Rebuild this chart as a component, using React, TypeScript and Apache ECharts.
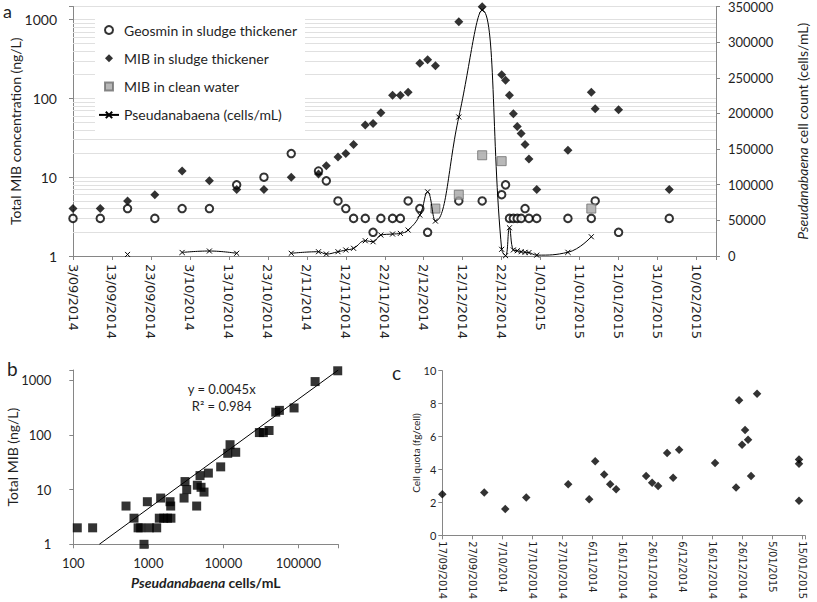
import React, { useEffect, useRef } from 'react';
import * as echarts from 'echarts';

// ---------- Panel a data ----------
const startA = '2014-09-03';
const sampleDates = [
  '2014-09-03', '2014-09-10', '2014-09-17', '2014-09-24', '2014-10-01', '2014-10-08', '2014-10-15', '2014-10-22',
  '2014-10-29', '2014-11-05', '2014-11-07', '2014-11-10', '2014-11-12', '2014-11-14', '2014-11-17', '2014-11-19',
  '2014-11-21', '2014-11-24', '2014-11-26', '2014-11-28', '2014-12-01', '2014-12-03', '2014-12-05', '2014-12-11',
  '2014-12-17', '2014-12-22', '2014-12-23', '2014-12-24', '2014-12-25', '2014-12-26', '2014-12-27', '2014-12-28',
  '2014-12-29', '2014-12-31', '2015-01-08', '2015-01-14', '2015-01-15', '2015-01-21', '2015-02-03',
];
const geosmin = [
  3, 3, 4, 3, 4, 4, 8, 10, 20, 12, 9, 5, 4, 3, 3, 2, 3, 3, 3, 5, 4, 2, null, 5, 5, 6, 8, 3, 3, 3, 3, 4, 3, 3, 3, 3, 5, 2, 3,
];
const mibSludge = [
  4, 4, 5, 6, 12, 9, 7, 7, 10, 11, 14, 18, 20, 26, 46, 48, 66, 110, 110, 120, 280, 310, 260, 940, 1460, 200, 170, 110,
  64, 44, 36, 26, 17, 7, 22, 120, 74, 72, 7,
];
const cleanDates = ['2014-12-05', '2014-12-11', '2014-12-17', '2014-12-22', '2015-01-14'];
const mibClean = [4, 6, 19, 16, 4];
const cellDates = [
  '2014-09-17', '2014-09-24', '2014-10-01', '2014-10-08', '2014-10-15', '2014-10-22', '2014-10-29', '2014-11-05',
  '2014-11-07', '2014-11-10', '2014-11-12', '2014-11-14', '2014-11-17', '2014-11-19', '2014-11-21', '2014-11-24',
  '2014-11-26', '2014-11-28', '2014-12-01', '2014-12-03', '2014-12-05', '2014-12-11', '2014-12-17', '2014-12-22',
  '2014-12-23', '2014-12-24', '2014-12-25', '2014-12-26', '2014-12-27', '2014-12-28', '2014-12-29', '2014-12-31',
  '2015-01-08', '2015-01-14',
];
const cellCounts = [
  2200, null, 5000, 7000, 3800, null, 3800, 6000, 2800, 6000, 8400, 10800, 21400, 20000, 29400, 30800, 31700, 36400,
  57400, 90000, 49000, 195000, 345000, 9400, 500, 39600, 8500, 7400, 6000, 5200, 4800, 1200, 5200, 27000,
];

// ---------- Panel b data ----------
const bCells = [
  113, 181, 504, 644, 730, 790, 875, 970, 1031, 1292, 1460, 1400, 1600, 1800, 2000, 1945, 1986, 2992, 3084, 3247, 4406,
  4498, 4885, 5039, 5521, 6310, 9210, 11420, 12270, 14600, 30200, 34100, 40600, 49900, 55800, 87500, 166900, 334000,
];
const bMib = [
  2, 2, 5, 3, 2, 2, 1, 6, 2, 2, 7, 3, 3, 3, 3, 6, 5, 7, 14, 10, 5, 12, 18, 11, 9, 20, 26, 46, 66, 48, 110, 110, 120, 260,
  280, 310, 940, 1480,
];
const trendCells = [222, 340000];
const trendMib = [1, 1530];

// ---------- Panel c data ----------
const startC = '2014-09-17';
const quotaDates = [
  '2014-09-17', '2014-10-01', '2014-10-08', '2014-10-15', '2014-10-29', '2014-11-05', '2014-11-07', '2014-11-10',
  '2014-11-12', '2014-11-14', '2014-11-24', '2014-11-26', '2014-11-28', '2014-12-01', '2014-12-03', '2014-12-05',
  '2014-12-17', '2014-12-24', '2014-12-25', '2014-12-26', '2014-12-27', '2014-12-28', '2014-12-29', '2014-12-31',
  '2015-01-14', '2015-01-14', '2015-01-14',
];
const cellQuota = [
  2.5, 2.6, 1.6, 2.3, 3.1, 2.2, 4.5, 3.7, 3.1, 2.8, 3.6, 3.2, 3.0, 5.0, 3.5, 5.2, 4.4, 2.9, 8.2, 5.5, 6.4, 5.8, 3.6, 8.6,
  4.6, 4.35, 2.1,
];

const DAY = 86400000;
const dayOf = (d: string, start: string) => Math.round((Date.parse(d) - Date.parse(start)) / DAY);
const fmtDate = (start: string) => (v: number) => {
  if (Math.abs(v % 10) > 1e-6) return '';
  const dt = new Date(Date.parse(start) + v * DAY);
  const m = String(dt.getUTCMonth() + 1).padStart(2, '0');
  return `${dt.getUTCDate()}/${m}/${dt.getUTCFullYear()}`;
};
const fmtPow10 = (v: number) => {
  const l = Math.log10(v);
  return Math.abs(l - Math.round(l)) < 1e-6 ? String(Math.round(v)) : '';
};
const fmtPlain = (v: number) => String(Math.round(v));

const minorGrid: number[] = [];
[1, 10, 100].forEach((d) => {
  for (let k = 2; k <= 9; k++) minorGrid.push(k * d);
});

const AXIS = '#868686';
const TXT = '#1f1f1f';
const FONT = 'Lato';
const GRIDC = '#e0e0e0';
const xPath = 'path://M0,0L10,10M10,0L0,10';

export default function App() {
  const ref = useRef<HTMLDivElement>(null);
  useEffect(() => {
    if (!ref.current) return;
    const chart = echarts.init(ref.current, undefined, { renderer: 'svg' });
    const axisLine = { show: true, onZero: false, lineStyle: { color: AXIS, width: 1 } };
    const axisTick = { show: true, inside: false, length: 4, lineStyle: { color: AXIS } };
    const option: any = {
      animation: false,
      backgroundColor: '#fff',
      textStyle: { fontFamily: FONT },
      grid: [
        { left: 69, right: 87, top: 6, bottom: 346 },
        { left: 73.3, right: 478.7, top: 370, bottom: 57.7 },
        { left: 442.3, right: 12, top: 370.7, bottom: 61.3 },
      ],
      legend: {
        orient: 'vertical',
        left: 95,
        top: 14,
        padding: [9, 8, 9, 3],
        itemGap: 14.3,
        itemWidth: 20,
        itemHeight: 8,
        backgroundColor: '#fff',
        textStyle: { fontFamily: FONT, fontSize: 14, color: TXT },
        selectedMode: false,
        data: [
          { name: 'Geosmin in sludge thickener', icon: 'circle' },
          { name: 'MIB in sludge thickener', icon: 'path://M5,0L10,5L5,10L0,5Z' },
          { name: 'MIB in clean water', icon: 'path://M0,0L10,0L10,10L0,10Z' },
          { name: 'Pseudanabaena (cells/mL)' },
        ],
      },
      xAxis: [
        {
          type: 'value', gridIndex: 0, min: 0, max: 165, interval: 10,
          axisLine, axisTick, splitLine: { show: false },
          axisLabel: { rotate: -90, margin: 8, fontFamily: 'DejaVu Sans', fontSize: 13, color: TXT, formatter: fmtDate(startA) },
        },
        {
          type: 'log', logBase: 10, gridIndex: 1, min: 100, max: 340000,
          axisLine, axisTick, splitLine: { show: false },
          axisLabel: { margin: 12, fontFamily: FONT, fontSize: 13, color: TXT, formatter: fmtPow10 },
          name: '{i|Pseudanabaena} {b|cells/mL}', nameLocation: 'middle', nameGap: 31, nameMoveOverlap: false,
          nameTextStyle: {
            rich: {
              i: { fontFamily: FONT, fontSize: 14, fontStyle: 'italic', fontWeight: 'bold', color: TXT },
              b: { fontFamily: FONT, fontSize: 14, fontWeight: 'bold', color: TXT },
            },
          },
        },
        {
          type: 'value', gridIndex: 2, min: 0, max: 121, interval: 10,
          axisLine, axisTick, splitLine: { show: false },
          axisLabel: { rotate: -90, margin: 6, fontFamily: 'DejaVu Sans', fontSize: 10, color: TXT, formatter: fmtDate(startC) },
        },
      ],
      yAxis: [
        {
          type: 'log', logBase: 10, gridIndex: 0, min: 1, max: 1470,
          axisLine, axisTick,
          splitLine: { show: true, lineStyle: { color: GRIDC, width: 1 } },
          axisLabel: { margin: 16, fontFamily: FONT, fontSize: 14, color: TXT, formatter: fmtPow10 },
          name: 'Total MIB concentration (ng/L)', nameLocation: 'middle', nameRotate: 90, nameGap: 51, nameMoveOverlap: false,
          nameTextStyle: { fontFamily: FONT, fontSize: 14, color: TXT },
        },
        {
          type: 'value', gridIndex: 0, position: 'right', min: 0, max: 350000, interval: 50000,
          axisLine, axisTick, splitLine: { show: false },
          axisLabel: { margin: 12, fontFamily: FONT, fontSize: 13, color: TXT, formatter: fmtPlain },
          name: '{i|Pseudanabaena} cell count (cells/mL)', nameLocation: 'middle', nameRotate: 90, nameGap: 79, nameMoveOverlap: false,
          nameTextStyle: {
            fontFamily: FONT, fontSize: 14, color: TXT,
            rich: { i: { fontFamily: FONT, fontSize: 14, fontStyle: 'italic', color: TXT } },
          },
        },
        {
          type: 'log', logBase: 10, gridIndex: 1, min: 1, max: 1530,
          axisLine, axisTick, splitLine: { show: false },
          axisLabel: { margin: 22, fontFamily: FONT, fontSize: 13, color: TXT, formatter: fmtPow10 },
          name: 'Total MIB (ng/L)', nameLocation: 'middle', nameRotate: 90, nameGap: 54, nameMoveOverlap: false,
          nameTextStyle: { fontFamily: FONT, fontSize: 14, color: TXT },
        },
        {
          type: 'value', gridIndex: 2, min: 0, max: 10, interval: 2,
          axisLine, axisTick, splitLine: { show: false },
          axisLabel: { margin: 6, fontFamily: FONT, fontSize: 11, color: TXT },
          name: 'Cell quota (fg/cell)', nameLocation: 'middle', nameRotate: 90, nameGap: 21, nameMoveOverlap: false,
          nameTextStyle: { fontFamily: FONT, fontSize: 10, color: TXT },
        },
      ],
      series: [
        {
          name: 'Pseudanabaena (cells/mL)', type: 'line', xAxisIndex: 0, yAxisIndex: 1,
          data: cellDates.map((d, i) => [dayOf(d, startA), cellCounts[i] == null ? '-' : cellCounts[i]]),
          smooth: 0.45, connectNulls: false, symbol: xPath, symbolSize: 5, showSymbol: true,
          lineStyle: { color: '#000', width: 1 },
          itemStyle: { color: '#000', borderColor: '#000', borderWidth: 1 },
        },
        {
          name: 'Geosmin in sludge thickener', type: 'scatter', xAxisIndex: 0, yAxisIndex: 0,
          data: sampleDates.map((d, i) => [dayOf(d, startA), geosmin[i]]).filter((p) => p[1] != null),
          symbol: 'circle', symbolSize: 7.5,
          itemStyle: { color: '#fff', borderColor: '#000', borderWidth: 2 },
          markLine: {
            silent: true, z: 1, symbol: 'none', label: { show: false },
            lineStyle: { color: GRIDC, width: 1, type: 'solid' },
            data: minorGrid.map((v) => ({ yAxis: v })),
          },
        },
        {
          name: 'MIB in sludge thickener', type: 'scatter', xAxisIndex: 0, yAxisIndex: 0,
          data: sampleDates.map((d, i) => [dayOf(d, startA), mibSludge[i]]),
          symbol: 'diamond', symbolSize: 9, itemStyle: { color: '#000' },
        },
        {
          name: 'MIB in clean water', type: 'scatter', xAxisIndex: 0, yAxisIndex: 0,
          data: cleanDates.map((d, i) => [dayOf(d, startA), mibClean[i]]),
          symbol: 'rect', symbolSize: 9,
          itemStyle: { color: '#a6a6a6', borderColor: '#6f6f6f', borderWidth: 1 },
        },
        {
          name: 'trend', type: 'line', xAxisIndex: 1, yAxisIndex: 2,
          data: trendCells.map((c, i) => [c, trendMib[i]]),
          symbol: 'none', lineStyle: { color: '#000', width: 1 },
        },
        {
          name: 'b points', type: 'scatter', xAxisIndex: 1, yAxisIndex: 2, clip: false,
          data: bCells.map((c, i) => [c, bMib[i]]),
          symbol: 'rect', symbolSize: 9, itemStyle: { color: '#000' },
        },
        {
          name: 'quota', type: 'scatter', xAxisIndex: 2, yAxisIndex: 3,
          data: quotaDates.map((d, i) => [dayOf(d, startC), cellQuota[i]]),
          symbol: 'diamond', symbolSize: 8.5, itemStyle: { color: '#000' },
        },
      ],
      graphic: [
        { type: 'text', left: 3, top: 2, style: { text: 'a', font: '18px Lato', fill: TXT } },
        { type: 'text', left: 7, top: 359, style: { text: 'b', font: '19px Lato', fill: TXT } },
        { type: 'text', left: 392, top: 363, style: { text: 'c', font: '19px Lato', fill: TXT } },
        { type: 'text', x: 221.7, y: 389, style: { text: 'y = 0.0045x', font: '13px Lato', fill: TXT, align: 'center', verticalAlign: 'middle' } },
        { type: 'text', x: 221.7, y: 405.7, style: { text: 'R² = 0.984', font: '13px Lato', fill: TXT, align: 'center', verticalAlign: 'middle' } },
      ],
    };
    chart.setOption(option);
    return () => chart.dispose();
  }, []);
  return <div ref={ref} style={{ position: 'absolute', left: 0, top: 0, width: 817, height: 602 }} />;
}
